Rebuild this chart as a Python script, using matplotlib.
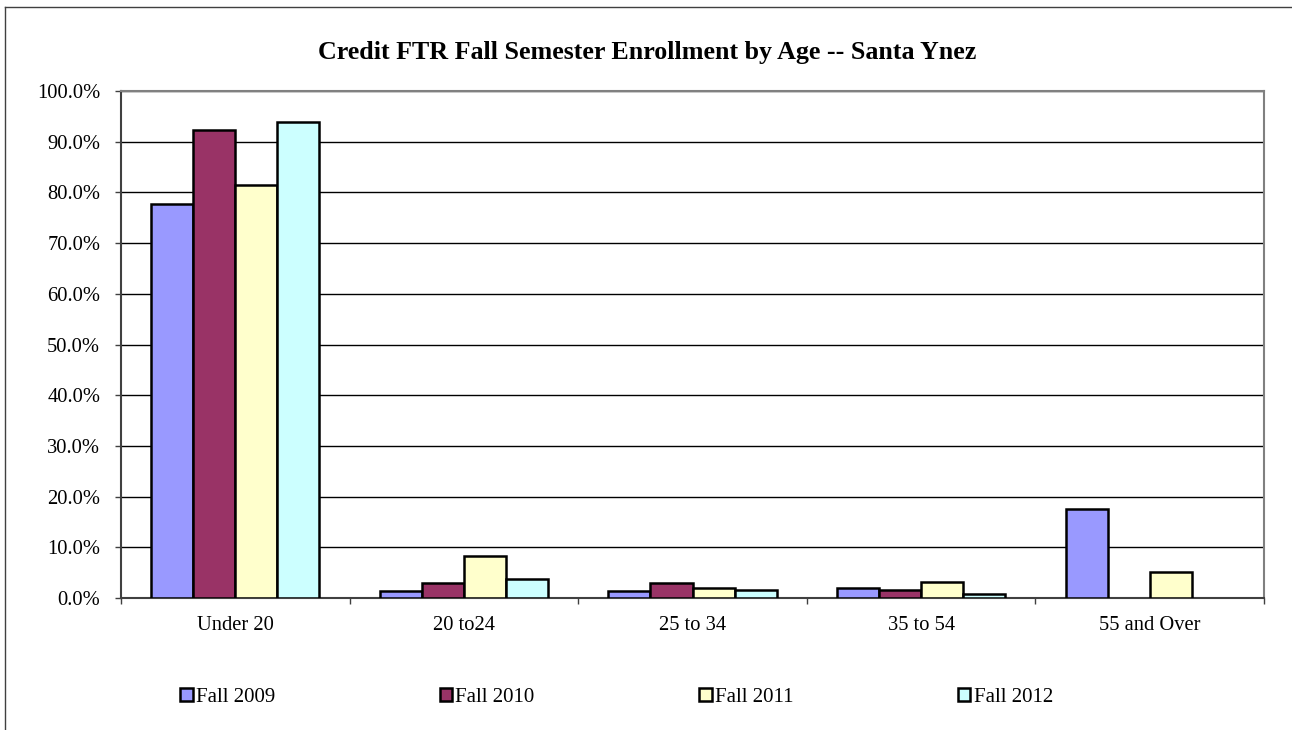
import matplotlib
matplotlib.use("Agg")
import matplotlib.pyplot as plt
import numpy as np
from matplotlib.lines import Line2D
from matplotlib.patches import Patch
from matplotlib.ticker import FuncFormatter

categories = ["Under 20", "20 to24", "25 to 34", "35 to 54", "55 and Over"]
series = ["Fall 2009", "Fall 2010", "Fall 2011", "Fall 2012"]
fall_2009 = [77.8, 1.3, 1.3, 2.0, 17.6]
fall_2010 = [92.4, 3.0, 3.0, 1.5, 0.0]
fall_2011 = [81.5, 8.3, 1.9, 3.2, 5.1]
fall_2012 = [93.8, 3.8, 1.5, 0.8, 0.0]
colors = ["#9999FF", "#993366", "#FFFFCC", "#CCFFFF"]

plt.rcParams['font.family'] = ['Liberation Serif', 'DejaVu Serif']

fig = plt.figure(figsize=(12.92, 7.3), dpi=100)
ax = fig.add_axes([121 / 1292, 132 / 730, (1264 - 121) / 1292, (598 - 91) / 730])

x = np.arange(len(categories))
w = 0.184
data = [fall_2009, fall_2010, fall_2011, fall_2012]
for i, vals in enumerate(data):
    for xi, v in zip(x, vals):
        if v <= 0:
            continue
        ax.bar(xi + (i - 1.5) * w, v, width=w, color=colors[i],
               edgecolor="black", linewidth=1.8, zorder=3)

ax.set_xlim(-0.5, len(categories) - 0.5)
ax.set_ylim(0, 100)
ax.set_yticks(np.arange(0, 101, 10))
ax.yaxis.set_major_formatter(FuncFormatter(lambda v, p: "%.1f%%" % v))
ax.set_xticks(x)
ax.set_xticklabels(categories)
ax.set_xticks(np.arange(-0.5, len(categories)), minor=True)
ax.tick_params(axis='x', which='major', length=0, pad=13, labelsize=14.8)
ax.tick_params(axis='x', which='minor', length=4.5, width=1, color="#404040", direction='out')
ax.tick_params(axis='y', length=4, width=1, color="#404040", direction='out', labelsize=14.8, pad=11)

ax.grid(axis='y', color='black', linewidth=1, zorder=0)
ax.set_axisbelow(True)
ax.spines['left'].set_color('#404040')
ax.spines['bottom'].set_color('#404040')
ax.spines['top'].set_color('#808080')
ax.spines['right'].set_color('#808080')
for s in ax.spines.values():
    s.set_linewidth(1.5)

fig.text(647 / 1292, 1 - 53 / 730, "Credit FTR Fall Semester Enrollment by Age -- Santa Ynez",
         ha='center', va='center', fontsize=18.7, fontweight='bold')

# chart border (only left and top visible)
fig.add_artist(Line2D([5 / 1292, 5 / 1292], [0, 1 - 7 / 730], color='#404040', linewidth=1))
fig.add_artist(Line2D([5 / 1292, 1], [1 - 7 / 730, 1 - 7 / 730], color='#404040', linewidth=1))

handles = [Patch(facecolor=c, edgecolor='black', linewidth=1.8) for c in colors]
fig.legend(handles, series, loc='center left', bbox_to_anchor=(172 / 1292, 1 - 697 / 730),
           ncol=4, frameon=False, fontsize=15, handlelength=0.6, handleheight=0.6,
           handletextpad=0.15, columnspacing=7.9, borderaxespad=0)

fig.savefig("out.png", dpi=100)
